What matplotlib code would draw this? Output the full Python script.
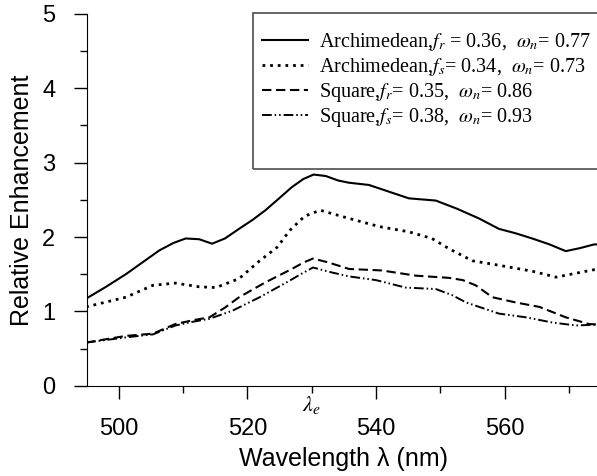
import matplotlib
matplotlib.use("Agg")
import matplotlib.pyplot as plt
from matplotlib.patches import Rectangle
from matplotlib.ticker import MultipleLocator

plt.rcParams['font.family'] = ['Liberation Sans', 'DejaVu Sans']
plt.rcParams['mathtext.fontset'] = 'stix'

# wavelength (nm) and relative enhancement
arch_r_wl = [494.9, 498.0, 501.1, 503.7, 506.3, 508.5, 510.4, 512.5, 514.5, 516.5, 518.7,
             520.8, 522.8, 524.8, 526.9, 528.7, 530.3, 532.2, 534.1, 535.8, 538.9,
             542.0, 545.1, 549.3, 552.6, 556.0, 559.1, 561.7, 564.3, 567.0, 569.5,
             571.7, 573.9, 575.0]
arch_r_val = [1.17, 1.33, 1.50, 1.66, 1.82, 1.92, 1.98, 1.97, 1.91, 1.98, 2.11,
              2.23, 2.36, 2.51, 2.67, 2.78, 2.84, 2.82, 2.76, 2.73, 2.70,
              2.61, 2.52, 2.49, 2.38, 2.25, 2.11, 2.05, 1.98, 1.90, 1.81,
              1.85, 1.90, 1.90]

arch_s_wl = [494.9, 501.1, 505.3, 508.8, 512.5, 515.1, 518.7, 521.9, 524.6, 526.6,
             528.9, 531.3, 535.8, 540.5, 545.1, 548.7, 551.4, 555.0, 559.1, 564.3,
             568.0, 573.9, 575.0]
arch_s_val = [1.06, 1.19, 1.35, 1.38, 1.33, 1.32, 1.44, 1.68, 1.86, 2.09,
              2.28, 2.36, 2.25, 2.14, 2.07, 1.98, 1.84, 1.68, 1.62, 1.54,
              1.46, 1.56, 1.56]

sq_r_wl = [494.9, 501.1, 505.3, 508.8, 511.5, 514.1, 516.5, 518.7, 522.8, 526.9, 528.8,
           530.2, 532.5, 535.8, 540.9, 546.2, 551.4, 553.5, 555.5, 558.1, 561.7, 565.4,
           569.5, 573.1, 575.0]
sq_r_val = [0.58, 0.67, 0.70, 0.83, 0.88, 0.92, 1.05, 1.19, 1.39, 1.57, 1.66,
            1.71, 1.66, 1.57, 1.55, 1.48, 1.45, 1.42, 1.35, 1.19, 1.12, 1.06,
            0.92, 0.83, 0.82]

sq_s_wl = [494.9, 501.1, 505.3, 508.8, 511.5, 514.1, 517.7, 521.9, 526.1, 528.3, 530.2,
           532.8, 535.8, 540.0, 544.6, 549.3, 551.8, 554.0, 559.1, 563.3, 567.4,
           571.1, 573.9, 575.0]
sq_s_val = [0.58, 0.65, 0.69, 0.81, 0.86, 0.90, 1.01, 1.19, 1.39, 1.50, 1.59,
            1.53, 1.47, 1.42, 1.32, 1.30, 1.22, 1.12, 0.97, 0.92, 0.85,
            0.81, 0.82, 0.82]

labels = [r"Archimedean,$f_r$ = 0.36,  $\omega_n$= 0.77",
          r"Archimedean,$f_s$= 0.34,  $\omega_n$= 0.73",
          r"Square,$f_r$= 0.35,  $\omega_n$= 0.86",
          r"Square,$f_s$= 0.38,  $\omega_n$= 0.93"]

fig = plt.figure(figsize=(5.97, 4.76), dpi=100)
ax = fig.add_axes([0.1452, 0.1897, 0.8616, 0.781])

ax.plot(arch_r_wl, arch_r_val, color='black', lw=1.5, ls='-', label=labels[0])
ax.plot(arch_s_wl, arch_s_val, color='black', lw=2.0, ls=(0, (1, 1.75)), label=labels[1])
ax.plot(sq_r_wl, sq_r_val, color='black', lw=1.5, ls=(0, (4.5, 2.2)), label=labels[2])
ax.plot(sq_s_wl, sq_s_val, color='black', lw=1.4,
        ls=(0, (5, 1.5, 0.8, 1.5, 0.8, 1.5)), label=labels[3])

ax.set_xlim(495, 575)
ax.set_ylim(0, 5)
ax.xaxis.set_major_locator(MultipleLocator(20))
ax.xaxis.set_minor_locator(MultipleLocator(10))
ax.yaxis.set_major_locator(MultipleLocator(1))
ax.yaxis.set_minor_locator(MultipleLocator(0.5))
ax.tick_params(which='major', direction='out', length=9.5, width=1.0, labelsize=17, pad=14)
ax.tick_params(which='minor', direction='out', length=5, width=1.0)
ax.tick_params(axis='y', pad=13)
ax.spines['top'].set_visible(False)
ax.spines['right'].set_visible(False)

ax.set_xlabel(u"Wavelength \u03bb (nm)", fontsize=18, labelpad=5)
ax.set_ylabel("Relative Enhancement", fontsize=18, labelpad=6)

ax.text(530, -0.26, r"$\lambda_e$", fontsize=16, ha='center', va='center', clip_on=False)

# legend box
ax.add_patch(Rectangle((0.3233, 0.583), 0.75, 0.42, transform=ax.transAxes,
                       fill=False, edgecolor='0.3', lw=1.2, clip_on=False))
leg = ax.legend(loc='upper left', bbox_to_anchor=(0.3408, 0.953), frameon=False,
                borderpad=0, borderaxespad=0, handlelength=2.3, handletextpad=0.55,
                labelspacing=0.13, prop={'family': 'Liberation Serif', 'size': 14.5})

fig.savefig("out.png", dpi=100)
